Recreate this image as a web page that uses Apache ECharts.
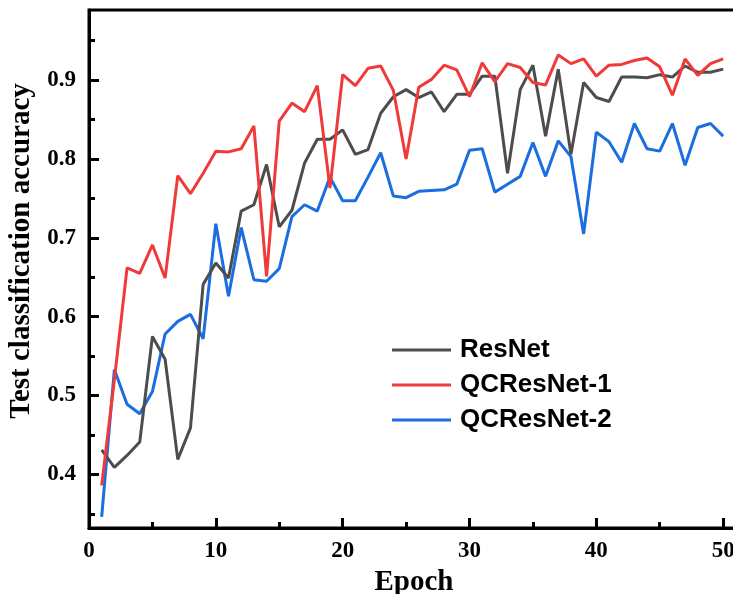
<!DOCTYPE html>
<html lang="en">
<head>
  <meta charset="UTF-8">
  <title>Test classification accuracy</title>
  <script src="https://cdn.jsdelivr.net/npm/echarts@6/dist/echarts.min.js"></script>
  <style>
    html, body { margin: 0; padding: 0; background: #fff; }
  </style>
</head>
<body>
<div id="chart" style="width: 733px; height: 594px;"></div>
<script>
  // values, epoch 1..50
  const epochs = [];
  for (let i = 1; i <= 50; i++) epochs.push(i);

  const resnet = [
    0.431, 0.409, 0.424, 0.441, 0.575, 0.546, 0.419, 0.459, 0.641, 0.668,
    0.649, 0.734, 0.742, 0.793, 0.714, 0.735, 0.795, 0.825, 0.825, 0.837,
    0.806, 0.812, 0.858, 0.879, 0.888, 0.878, 0.885, 0.860, 0.882, 0.882,
    0.905, 0.905, 0.782, 0.888, 0.919, 0.829, 0.914, 0.806, 0.897, 0.878,
    0.873, 0.904, 0.904, 0.903, 0.907, 0.904, 0.918, 0.910, 0.910, 0.914
  ];
  const qcresnet1 = [
    0.386, 0.520, 0.662, 0.655, 0.691, 0.649, 0.779, 0.756, 0.782, 0.810,
    0.809, 0.813, 0.842, 0.651, 0.848, 0.871, 0.860, 0.893, 0.763, 0.907,
    0.893, 0.915, 0.918, 0.887, 0.800, 0.891, 0.901, 0.919, 0.913, 0.879,
    0.922, 0.898, 0.921, 0.916, 0.897, 0.894, 0.932, 0.921, 0.927, 0.905,
    0.919, 0.920, 0.925, 0.928, 0.917, 0.881, 0.927, 0.906, 0.921, 0.927
  ];
  const qcresnet2 = [
    0.346, 0.533, 0.489, 0.477, 0.505, 0.578, 0.594, 0.603, 0.572, 0.718,
    0.626, 0.713, 0.647, 0.645, 0.661, 0.727, 0.742, 0.734, 0.777, 0.747,
    0.747, 0.777, 0.808, 0.753, 0.751, 0.759, 0.760, 0.761, 0.768, 0.811,
    0.813, 0.758, 0.768, 0.778, 0.821, 0.778, 0.823, 0.803, 0.705, 0.834,
    0.822, 0.796, 0.845, 0.813, 0.810, 0.845, 0.792, 0.840, 0.845, 0.829
  ];

  const xMajor = [0, 10, 20, 30, 40, 50];
  const xMinor = [5, 15, 25, 35, 45];
  const yMajor = [0.4, 0.5, 0.6, 0.7, 0.8, 0.9];
  const yMinor = [0.35, 0.45, 0.55, 0.65, 0.75, 0.85, 0.95];

  const serif = '"Liberation Serif", "Times New Roman", serif';
  const sans = '"Liberation Sans", Arial, sans-serif';

  function pairs(vals) {
    return vals.map(function (v, i) { return [epochs[i], v]; });
  }

  let chart = echarts.init(document.getElementById('chart'));

  let option = {
    animation: false,
    grid: {
      left: 89, top: 10, width: 650, height: 518,
      outerBoundsMode: 'none',
      containLabel: false,
      show: true, borderColor: '#000', borderWidth: 3
    },
    legend: {
      orient: 'vertical',
      left: 392,
      top: 337,
      padding: 0,
      icon: 'rect',
      itemWidth: 59,
      itemHeight: 3,
      itemGap: 9,
      textStyle: {
        fontFamily: sans, fontWeight: 'bold', fontSize: 26,
        lineHeight: 25, color: '#000', padding: [0, 0, 0, 4]
      },
      data: ['ResNet', 'QCResNet-1', 'QCResNet-2']
    },
    xAxis: [{
      type: 'value', min: 0, max: 51.25,
      name: 'Epoch', nameLocation: 'middle', nameGap: 32,
      nameTextStyle: { fontFamily: serif, fontWeight: 'bold', fontSize: 29, color: '#000' },
      axisLine: { lineStyle: { color: '#000', width: 3 } },
      axisTick: { inside: true, length: 10, lineStyle: { width: 3, color: '#000' }, customValues: xMajor },
      axisLabel: { customValues: xMajor, margin: 12, fontFamily: serif, fontWeight: 'bold', fontSize: 23, color: '#000' },
      splitLine: { show: false }
    }, {
      type: 'value', min: 0, max: 51.25, position: 'bottom',
      axisLine: { show: false },
      axisTick: { inside: true, length: 6, lineStyle: { width: 3, color: '#000' }, customValues: xMinor },
      axisLabel: { show: false },
      splitLine: { show: false }
    }],
    yAxis: [{
      type: 'value', min: 0.332, max: 0.989,
      name: 'Test classification accuracy', nameLocation: 'middle', nameGap: 51,
      nameTextStyle: {
        fontFamily: serif, fontWeight: 'bold', fontSize: 29, color: '#000',
        padding: [0, 0, 0, 36]
      },
      axisLine: { show: true, lineStyle: { color: '#000', width: 3 } },
      axisTick: { show: true, inside: true, length: 10, lineStyle: { width: 3, color: '#000' }, customValues: yMajor },
      axisLabel: {
        customValues: yMajor, margin: 13, fontFamily: serif, fontWeight: 'bold', fontSize: 23, color: '#000',
        formatter: function (v) { return v.toFixed(1); }
      },
      splitLine: { show: false }
    }, {
      type: 'value', min: 0.332, max: 0.989, position: 'left',
      axisLine: { show: false },
      axisTick: { show: true, inside: true, length: 6, lineStyle: { width: 3, color: '#000' }, customValues: yMinor },
      axisLabel: { show: false },
      splitLine: { show: false }
    }],
    series: [{
      name: 'ResNet', type: 'line', showSymbol: false,
      color: '#4d4d4d', lineStyle: { width: 3 },
      data: pairs(resnet)
    }, {
      name: 'QCResNet-1', type: 'line', showSymbol: false,
      color: '#f03a3a', lineStyle: { width: 3 },
      data: pairs(qcresnet1)
    }, {
      name: 'QCResNet-2', type: 'line', showSymbol: false,
      color: '#1a6ee0', lineStyle: { width: 3 },
      z: 1,
      data: pairs(qcresnet2)
    }]
  };
  chart.setOption(option);
</script>
</body>
</html>
